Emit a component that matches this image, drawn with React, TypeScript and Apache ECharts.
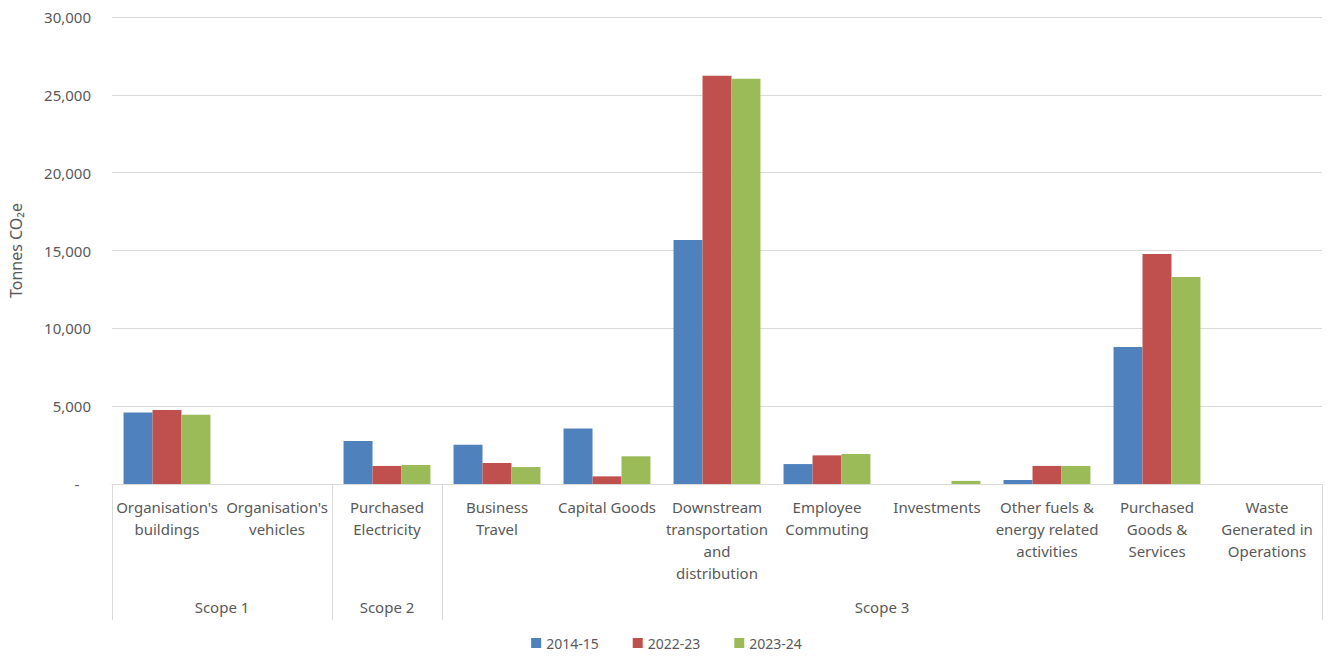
import React, { useEffect, useRef } from "react";
import * as echarts from "echarts";

const categories = [
  "Organisation's\nbuildings",
  "Organisation's\nvehicles",
  "Purchased\nElectricity",
  "Business\nTravel",
  "Capital Goods",
  "Downstream\ntransportation\nand\ndistribution",
  "Employee\nCommuting",
  "Investments",
  "Other fuels &\nenergy related\nactivities",
  "Purchased\nGoods &\nServices",
  "Waste\nGenerated in\nOperations",
];
const seriesNames = ["2014-15", "2022-23", "2023-24"];
const values2014 = [4600, 0, 2760, 2520, 3570, 15670, 1280, 0, 250, 8800, 0];
const values2022 = [4750, 0, 1160, 1350, 490, 26230, 1840, 0, 1160, 14770, 0];
const values2023 = [4450, 0, 1220, 1090, 1780, 26030, 1930, 200, 1160, 13300, 0];
const scopeNames = ["Scope 1", "Scope 2", "Scope 3"];
const scopeBoundaries = [0, 2, 3, 11];
const yTicks = { min: 0, max: 30000, interval: 5000 };
const colors = ["#4F81BD", "#C0504D", "#9BBB59"];

const FONT = "'Noto Sans', sans-serif";
const TEXT = "#595959";

export default function App() {
  const ref = useRef<HTMLDivElement>(null);
  useEffect(() => {
    if (!ref.current) return;
    const chart = echarts.init(ref.current, undefined, { renderer: "svg" });
    const n = categories.length;
    const scopeCenters = scopeNames.map((_, i) => (scopeBoundaries[i] + scopeBoundaries[i + 1]) / 2);
    chart.setOption({
      animation: false,
      textStyle: { fontFamily: FONT },
      grid: { left: 112, right: 11, top: 17, bottom: 173, containLabel: false },
      legend: {
        bottom: 2,
        left: "center",
        itemWidth: 10,
        itemHeight: 10,
        itemGap: 34,
        icon: "rect",
        textStyle: { color: TEXT, fontSize: 14, fontFamily: FONT },
        data: seriesNames,
      },
      xAxis: [
        {
          type: "category",
          data: categories,
          position: "bottom",
          axisLine: { show: true, lineStyle: { color: "#d9d9d9", width: 1 } },
          axisTick: { show: false },
          axisLabel: {
            interval: 0,
            color: TEXT,
            fontSize: 15,
            fontFamily: FONT,
            lineHeight: 22,
            margin: 12,
            align: "center",
          },
        },
        {
          type: "value",
          min: 0,
          max: n,
          position: "bottom",
          offset: 0,
          axisLine: { show: false },
          splitLine: { show: false },
          axisTick: {
            show: true,
            customValues: scopeBoundaries,
            length: 136,
            lineStyle: { color: "#d9d9d9", width: 1 },
          },
          axisLabel: {
            customValues: scopeCenters,
            formatter: (v: number) => {
              const i = scopeCenters.findIndex((c) => Math.abs(c - v) < 1e-6);
              return i >= 0 ? scopeNames[i] : "";
            },
            color: TEXT,
            fontSize: 15,
            fontFamily: FONT,
            margin: 113,
            lineHeight: 20,
          },
        },
      ],
      yAxis: {
        type: "value",
        min: yTicks.min,
        max: yTicks.max,
        interval: yTicks.interval,
        name: "Tonnes CO\u2082e",
        nameLocation: "middle",
        nameGap: 88,
        nameTextStyle: { color: TEXT, fontSize: 16, fontFamily: FONT },
        axisLine: { show: false },
        axisTick: { show: false },
        splitLine: { lineStyle: { color: "#d9d9d9", width: 1 } },
        axisLabel: {
          color: TEXT,
          fontSize: 15,
          fontFamily: FONT,
          margin: 21,
          formatter: (v: number) => (v === 0 ? "-   " : v.toLocaleString("en-US")),
        },
      },
      series: [values2014, values2022, values2023].map((d, i) => ({
        name: seriesNames[i],
        type: "bar",
        xAxisIndex: 0,
        data: d,
        barGap: "0%",
        barCategoryGap: "21%",
        itemStyle: { color: colors[i] },
      })),
    });
    return () => chart.dispose();
  }, []);
  return <div ref={ref} style={{ width: 1333, height: 657, margin: -8 }} />;
}
